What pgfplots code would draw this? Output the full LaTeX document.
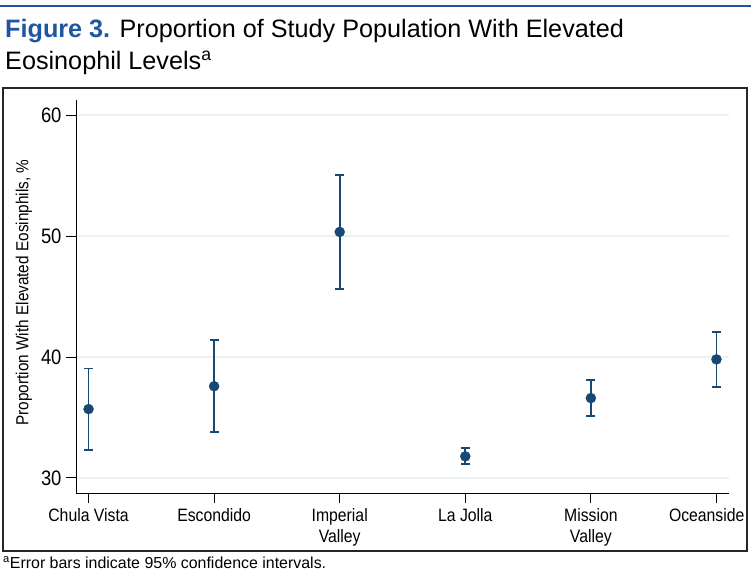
\documentclass[border=0pt]{standalone}
\usepackage{fontspec}
\setmainfont{Liberation Sans}
\newfontfamily\condfont{Liberation Sans}[FakeStretch=0.88]
\usepackage{pgfplots}
\pgfplotsset{compat=1.18}
\usepackage{pgfplotstable}

\definecolor{figblue}{RGB}{31,86,164}
\definecolor{dotc}{RGB}{24,72,115}
\definecolor{gridc}{RGB}{233,241,243}

% site, proportion, upper and lower half-widths of the 95% CI
\pgfplotstableread{
x y ep em
0 35.69 3.35 3.36
1 37.58 3.80 3.79
2 50.34 4.70 4.74
3 31.78 0.72 0.65
4 36.60 1.48 1.51
5 39.80 2.26 2.27
}\eosdata

\begin{document}
\begin{tikzpicture}
\useasboundingbox (0,0) rectangle (754bp,-577bp);
% rule and title
\draw[figblue, line width=1.4bp] (0,-6bp) -- (751bp,-6bp);
\node[anchor=base west, inner sep=0pt] at (5bp,-37.5bp)
  {\fontsize{25.3}{30}\selectfont\textcolor{figblue}{\bfseries Figure 3.} Proportion of Study Population With Elevated};
\node[anchor=base west, inner sep=0pt] at (5bp,-69.5bp)
  {\fontsize{25.3}{30}\selectfont Eosinophil Levels\textsuperscript{a}};
% frame
\draw[black!85, line width=1.1bp] (3bp,-88bp) rectangle (747bp,-551bp);

\begin{axis}[
  at={(76bp,-493bp)}, anchor=south west,
  width=653bp, height=393bp, scale only axis,
  xmin=-0.1, xmax=5.1, ymin=28.75, ymax=61.25,
  axis x line*=bottom, axis y line*=left,
  axis line style={line width=0.9bp, black},
  tick align=outside, major tick length=10bp,
  tick style={line width=0.9bp, black},
  xtick={0,...,5},
  xticklabels={Chula Vista, Escondido, Imperial\\Valley, La Jolla, Mission\\Valley, \makebox[56bp][r]{Oceanside}},
  xticklabel style={font=\condfont\fontsize{18}{21}\selectfont, align=center, anchor=north, yshift=-2bp},
  ytick={30,40,50,60},
  yticklabel style={font=\condfont\fontsize{21}{21}\selectfont, xshift=-1bp},
  /pgf/number format/assume math mode=true,
  ymajorgrids, grid style={gridc, line width=1.3bp},
  ylabel={Proportion With Elevated Eosinphils, \%},
  ylabel style={font=\condfont\fontsize{17.5}{19}\selectfont, at={(axis description cs:-0.08,0.51)}, anchor=center},
]
  \addplot[only marks, mark=*, mark size=5bp, dotc, mark options={fill=dotc, draw=dotc},
    error bars/.cd, y dir=both, y explicit,
    error bar style={line width=1.8bp, dotc},
    error mark options={rotate=90, mark size=4.5bp, line width=1.8bp, dotc}]
    table[x=x, y=y, y error plus=ep, y error minus=em] {\eosdata};
\end{axis}

% footnote
\node[anchor=base west, inner sep=0pt] at (3bp,-568.5bp)
  {\fontsize{16}{18}\selectfont\textsuperscript{a}Error bars indicate 95\% confidence intervals.};
\end{tikzpicture}
\end{document}
